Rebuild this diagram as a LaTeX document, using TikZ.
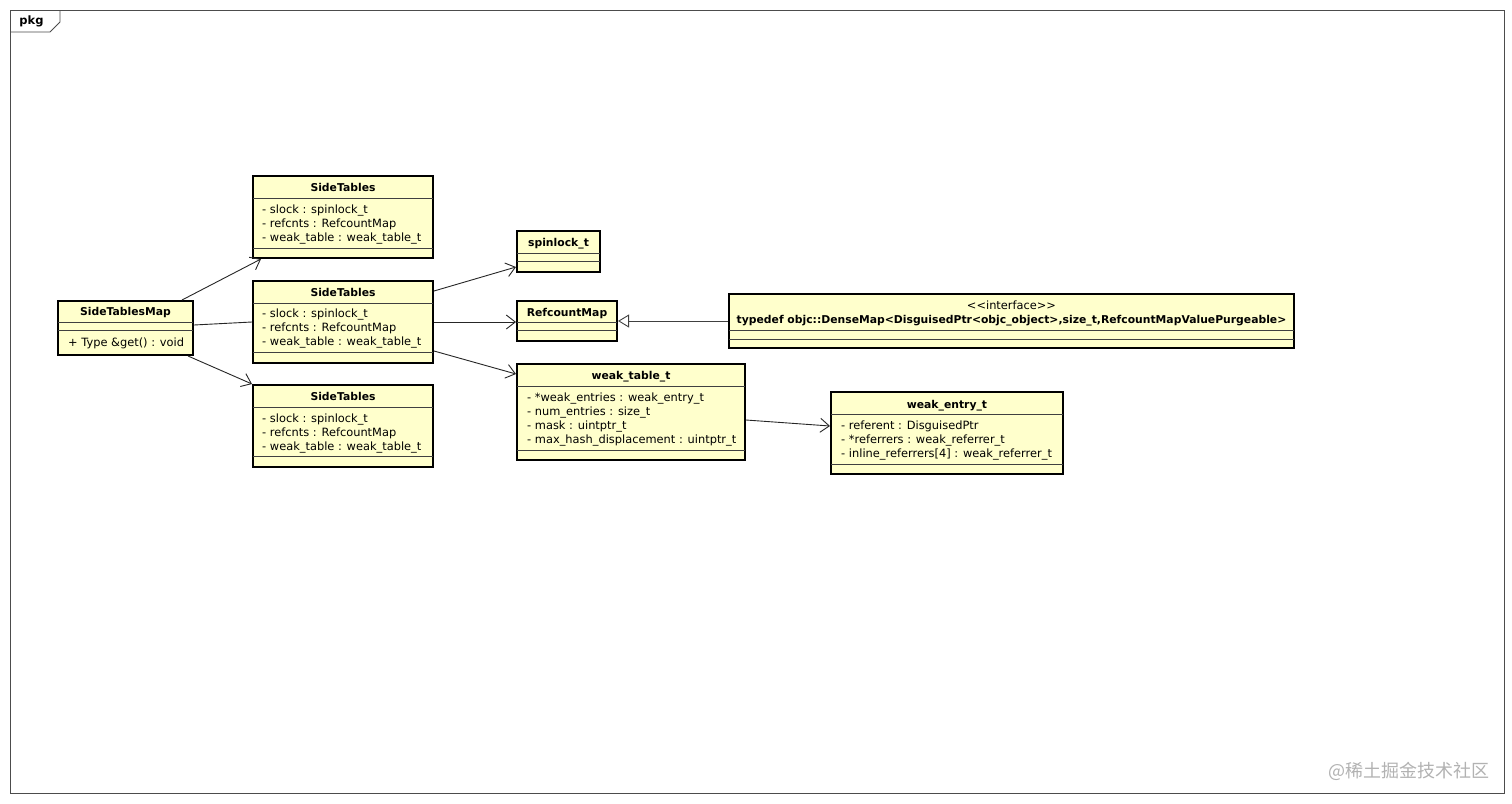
\documentclass[tikz,border=0pt]{standalone}
\usepackage{fontspec}
\setmainfont{DejaVu Sans}
\newfontfamily\cjk{Noto Sans CJK SC}
\usetikzlibrary{arrows.meta}
\definecolor{umlfill}{HTML}{FFFFCC}
\newcommand\classbox[5]{\node[box, minimum width={#4-#2}, minimum height={#5-#3}] (#1) at ({(#2+#4)/2},{(#3+#5)/2}) {};}
\newcommand\sepline[2]{\draw[sepl] (#1.west |- 0,#2) -- (#1.east |- 0,#2);}
\begin{document}
\begin{tikzpicture}[x=1pt,y=-1pt,
  box/.style={draw=black, line width=2pt, fill=umlfill, rectangle, inner sep=0pt},
  sepl/.style={draw=black!75, line width=0.9pt, shorten <=1pt, shorten >=1pt},
  attr/.style={anchor=west, inner sep=0pt, yshift=-2pt, font=\fontsize{11.4}{13}\selectfont, text height=8pt, text depth=2.5pt},
  ttl/.style={inner sep=0pt, yshift=-1.5pt, font=\fontsize{10.8}{13}\selectfont\bfseries, text height=8pt, text depth=2.5pt},
  assoc/.style={draw=black!85, line width=0.9pt, -{Straight Barb[length=9pt,width=14pt,line width=0.9pt]}},
  real/.style={draw=black!75, line width=0.9pt, -{Triangle[open,length=11pt,width=13pt,fill=white,line width=0.9pt]}},
]
\useasboundingbox (0,0) rectangle (1512,803);
\fill[white] (0,0) rectangle (1512,803);
% frame
\draw[black!70, line width=0.8pt] (10,10) rectangle (1504,793);
\coordinate (t1) at (10,32);
\coordinate (t2) at (50,32);
\coordinate (t3) at (60,22);
\coordinate (t4) at (60,10);
\draw[black!70, line width=0.8pt] (t1) -- (t2) -- (t3) -- (t4);
\node[inner sep=0pt, font=\fontsize{11.5}{13}\selectfont\bfseries] (pkg) at (31.5,21.5) {pkg};

% SideTablesMap
\classbox{stm}{58}{301}{193}{355}
\sepline{stm}{322}\sepline{stm}{330}
\node[ttl] (stmT) at (125.5,311.5) {SideTablesMap};
\node[attr] (stmA) at (68,342) {+ Type \&get() : void};

% SideTables 1
\classbox{st1}{253}{176}{433}{258}
\sepline{st1}{198}\sepline{st1}{248}
\node[ttl] (st1T) at (343,187) {SideTables};
\node[attr] (st1a) at (262,209) {- slock : spinlock\_t};
\node[attr] (st1b) at (262,223) {- refcnts : RefcountMap};
\node[attr] (st1c) at (262,237) {- weak\_table : weak\_table\_t};

% SideTables 2
\classbox{st2}{253}{281}{433}{363}
\sepline{st2}{303}\sepline{st2}{352}
\node[ttl] (st2T) at (343,292) {SideTables};
\node[attr] (st2a) at (262,313) {- slock : spinlock\_t};
\node[attr] (st2b) at (262,327) {- refcnts : RefcountMap};
\node[attr] (st2c) at (262,341) {- weak\_table : weak\_table\_t};

% SideTables 3
\classbox{st3}{253}{385}{433}{467}
\sepline{st3}{407}\sepline{st3}{456}
\node[ttl] (st3T) at (343,396) {SideTables};
\node[attr] (st3a) at (262,418) {- slock : spinlock\_t};
\node[attr] (st3b) at (262,432) {- refcnts : RefcountMap};
\node[attr] (st3c) at (262,446) {- weak\_table : weak\_table\_t};

% spinlock_t
\classbox{spin}{517}{231}{600}{272}
\sepline{spin}{253}\sepline{spin}{261}
\node[ttl] (spinT) at (558.5,242) {spinlock\_t};

% RefcountMap
\classbox{rcm}{517}{301}{617}{341}
\sepline{rcm}{322}\sepline{rcm}{330}
\node[ttl] (rcmT) at (567,312) {RefcountMap};

% weak_table_t
\classbox{wtt}{517}{364}{745}{460}
\sepline{wtt}{386}\sepline{wtt}{450}
\node[ttl] (wttT) at (631,375) {weak\_table\_t};
\node[attr] (wtta) at (527,397) {- *weak\_entries : weak\_entry\_t};
\node[attr] (wttb) at (527,411) {- num\_entries : size\_t};
\node[attr] (wttc) at (527,425) {- mask : uintptr\_t};
\node[attr] (wttd) at (527,439) {- max\_hash\_displacement : uintptr\_t};

% interface
\classbox{ifc}{729}{294}{1294}{348}
\sepline{ifc}{330}\sepline{ifc}{339}
\node[inner sep=0pt, yshift=-1.5pt, font=\fontsize{11.4}{13}\selectfont, text height=8pt, text depth=2.5pt] (ifcS) at (1011.5,305) {<{}<interface>{}>};
\node[ttl] (ifcT) at (1011.5,319) {typedef objc::DenseMap<DisguisedPtr<objc\_object>,size\_t,RefcountMapValuePurgeable>};

% weak_entry_t
\classbox{wet}{831}{392}{1063}{474}
\sepline{wet}{414}\sepline{wet}{464}
\node[ttl] (wetT) at (947,404) {weak\_entry\_t};
\node[attr] (weta) at (841,425) {- referent : DisguisedPtr};
\node[attr] (wetb) at (841,439) {- *referrers : weak\_referrer\_t};
\node[attr] (wetc) at (841,453) {- inline\_referrers[4] : weak\_referrer\_t};

% connectors
\draw[assoc] ([xshift=-12pt]stm.north east) -- ([xshift=9pt]st1.south west);
\draw[draw=black!85, line width=0.9pt] ([yshift=3pt]stm.east) -- (st2.west);
\draw[assoc] ([xshift=-6pt]stm.south east) -- (st3.north west);
\draw[assoc] ([yshift=-11pt]st2.north east) -- ([yshift=6pt]spin.south west);
\draw[assoc] (st2.east) -- (st2.east -| rcm.west);
\draw[assoc] ([yshift=13pt]st2.south east) -- ([yshift=-11pt]wtt.north west);
\draw[real] (ifc.west) -- (rcm.east);
\draw[assoc] ([yshift=-8pt]wtt.east) -- ([yshift=7pt]wet.west);

% watermark
\node[anchor=east, inner sep=0pt, text=black!30, font=\cjk\fontsize{18}{21}\selectfont] (wm) at (1490,771) {@稀土掘金技术社区};
\end{tikzpicture}
\end{document}
